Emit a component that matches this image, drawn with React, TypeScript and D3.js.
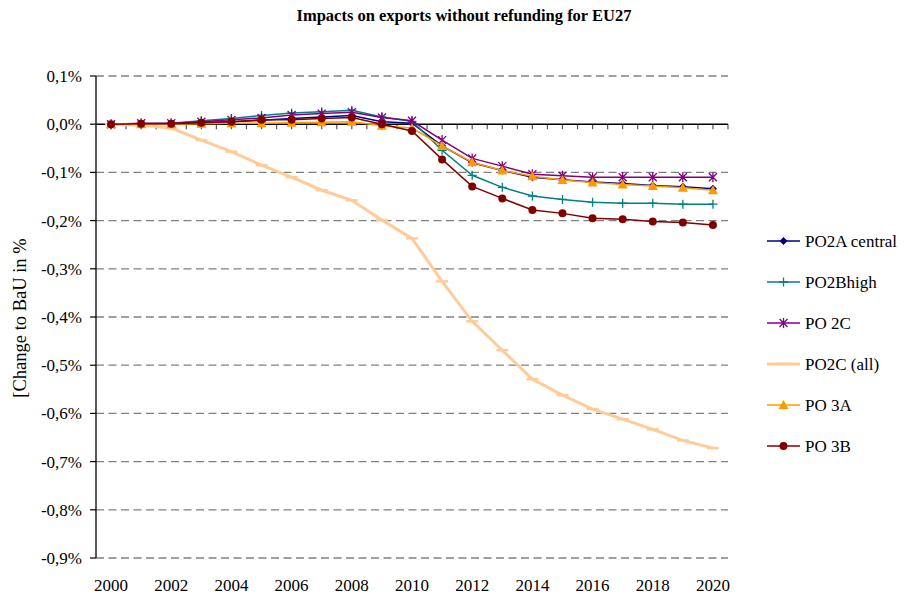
import React, { useEffect, useRef } from 'react';
import * as d3 from 'd3';

const years = d3.range(2000, 2021).map(String);
const yTicks = [0.1, 0, -0.1, -0.2, -0.3, -0.4, -0.5, -0.6, -0.7, -0.8, -0.9];
const xLabels = ['2000', '2002', '2004', '2006', '2008', '2010', '2012', '2014', '2016', '2018', '2020'];

// values in %
const po2aCentral = [0, 0.001, 0.001, 0.003, 0.005, 0.008, 0.012, 0.015, 0.018, 0.005, 0.002, -0.045, -0.08, -0.096, -0.11, -0.115, -0.12, -0.123, -0.127, -0.13, -0.134];
const po2bHigh = [0, 0.001, 0.002, 0.007, 0.012, 0.018, 0.023, 0.026, 0.029, 0.015, 0.006, -0.054, -0.106, -0.131, -0.149, -0.156, -0.162, -0.164, -0.164, -0.166, -0.166];
const po2c = [0, 0.002, 0.002, 0.005, 0.009, 0.013, 0.019, 0.022, 0.025, 0.014, 0.007, -0.033, -0.071, -0.087, -0.104, -0.107, -0.11, -0.11, -0.11, -0.11, -0.11];
const po2cAll = [0, -0.002, -0.008, -0.033, -0.057, -0.085, -0.11, -0.137, -0.158, -0.199, -0.237, -0.326, -0.409, -0.469, -0.529, -0.562, -0.591, -0.612, -0.633, -0.656, -0.672];
const po3a = [0, 0, 0, 0.001, 0.002, 0.002, 0.003, 0.004, 0.005, -0.003, -0.008, -0.045, -0.079, -0.096, -0.108, -0.116, -0.121, -0.125, -0.128, -0.132, -0.137];
const po3b = [0, 0.001, 0.001, 0.003, 0.005, 0.009, 0.009, 0.012, 0.014, 0, -0.014, -0.073, -0.129, -0.154, -0.178, -0.185, -0.195, -0.197, -0.202, -0.204, -0.209];

const seriesNames = ['PO2A central', 'PO2Bhigh', 'PO 2C', 'PO2C (all)', 'PO 3A', 'PO 3B'];
const seriesValues = [po2aCentral, po2bHigh, po2c, po2cAll, po3a, po3b];
const seriesColors = ['#000080', '#008080', '#800080', '#FFCC99', '#FF9900', '#800000'];
const seriesMarkers = ['diamond', 'plus', 'star', 'dash', 'triangle', 'circle'];

const fmt = (v: number) => (v < 0 ? '-' : '') + Math.abs(v).toFixed(1).replace('.', ',') + '%';

function drawMarker(g: any, kind: string, color: string, x: number, y: number) {
  if (kind === 'diamond') {
    g.append('path').attr('d', `M${x},${y - 4}L${x + 4},${y}L${x},${y + 4}L${x - 4},${y}Z`).attr('fill', color);
  } else if (kind === 'plus') {
    g.append('path').attr('d', `M${x - 4.5},${y}H${x + 4.5}M${x},${y - 4.5}V${y + 4.5}`).attr('stroke', color).attr('stroke-width', 1.3);
  } else if (kind === 'star') {
    g.append('path')
      .attr('d', `M${x - 4},${y - 4}L${x + 4},${y + 4}M${x - 4},${y + 4}L${x + 4},${y - 4}M${x},${y - 5}V${y + 5}`)
      .attr('stroke', color).attr('stroke-width', 1.3);
  } else if (kind === 'dash') {
    g.append('path').attr('d', `M${x - 6},${y}H${x + 6}`).attr('stroke', color).attr('stroke-width', 2.5);
  } else if (kind === 'triangle') {
    g.append('path').attr('d', `M${x},${y - 5}L${x + 5},${y + 4}L${x - 5},${y + 4}Z`).attr('fill', color);
  } else {
    g.append('circle').attr('cx', x).attr('cy', y).attr('r', 4).attr('fill', color);
  }
}

export default function App() {
  const ref = useRef<SVGSVGElement>(null);

  useEffect(() => {
    const svg = d3.select(ref.current);
    svg.selectAll('*').remove();
    const width = 904;
    const height = 599;
    const left = 96, right = 728, top = 76, bottom = 558;

    const x = d3.scaleBand().domain(years).range([left, right]).paddingInner(0).paddingOuter(0);
    const y = d3.scaleLinear().domain([-0.9, 0.1]).range([bottom, top]);
    const cx = (yr: string) => (x(yr) as number) + x.bandwidth() / 2;

    svg.append('rect').attr('width', width).attr('height', height).attr('fill', '#fff');

    // title
    svg.append('text').attr('x', 464).attr('y', 21).attr('text-anchor', 'middle')
      .attr('font-family', 'Liberation Serif').attr('font-weight', 'bold').attr('font-size', 16.5)
      .text('Impacts on exports without refunding for EU27');

    // grid
    svg.append('g').selectAll('line').data(yTicks.filter(t => t !== 0)).enter()
      .append('line')
      .attr('x1', left).attr('x2', right)
      .attr('y1', d => y(d)).attr('y2', d => y(d))
      .attr('stroke', '#808080').attr('stroke-width', 1.3).attr('stroke-dasharray', '8,4.5');

    // y axis
    svg.append('line').attr('x1', left).attr('x2', left).attr('y1', top).attr('y2', bottom).attr('stroke', '#000').attr('stroke-width', 1.3);
    const yAx = svg.append('g');
    yAx.selectAll('line').data(yTicks).enter().append('line')
      .attr('x1', left - 6).attr('x2', left).attr('y1', d => y(d)).attr('y2', d => y(d))
      .attr('stroke', '#000').attr('stroke-width', 1.2);
    yAx.selectAll('text').data(yTicks).enter().append('text')
      .attr('x', 82).attr('y', d => y(d) + 6).attr('text-anchor', 'end')
      .attr('font-family', 'Liberation Serif').attr('font-size', 17)
      .text(d => fmt(d));

    svg.append('text')
      .attr('transform', `translate(26,318) rotate(-90)`)
      .attr('text-anchor', 'middle')
      .attr('font-family', 'Liberation Serif').attr('font-size', 18.5)
      .text('[Change to BaU in %');

    // x axis on zero line
    const step = x.bandwidth() / 2;
    svg.append('g').selectAll('line').data(d3.range(0, years.length * 2 + 1)).enter().append('line')
      .attr('x1', d => left + d * step).attr('x2', d => left + d * step)
      .attr('y1', y(0)).attr('y2', y(0) + 5)
      .attr('stroke', '#555').attr('stroke-width', 1.2);
    svg.append('line').attr('x1', left).attr('x2', right).attr('y1', y(0)).attr('y2', y(0)).attr('stroke', '#000').attr('stroke-width', 1.5);

    svg.append('g').selectAll('text').data(xLabels).enter().append('text')
      .attr('x', d => cx(d)).attr('y', 591).attr('text-anchor', 'middle')
      .attr('font-family', 'Liberation Serif').attr('font-size', 17)
      .text(d => d);

    // series
    const line = d3.line<number>().x((_, i) => cx(years[i])).y(d => y(d));
    seriesValues.forEach((vals, si) => {
      const color = seriesColors[si];
      const g = svg.append('g');
      g.append('path').attr('d', line(vals)).attr('fill', 'none')
        .attr('stroke', color).attr('stroke-width', si === 3 ? 3 : 1.5);
      vals.forEach((v, i) => drawMarker(g, seriesMarkers[si], color, cx(years[i]), y(v)));
    });

    // legend
    const lg = svg.append('g');
    seriesNames.forEach((name, i) => {
      const ly = 241 + i * 41;
      const color = seriesColors[i];
      lg.append('line').attr('x1', 767).attr('x2', 800).attr('y1', ly).attr('y2', ly)
        .attr('stroke', color).attr('stroke-width', i === 3 ? 3 : 1.5);
      drawMarker(lg, seriesMarkers[i], color, 783.5, ly);
      lg.append('text').attr('x', 805).attr('y', ly + 6)
        .attr('font-family', 'Liberation Serif').attr('font-size', 17)
        .text(name);
    });
  }, []);

  return (
    <svg ref={ref} width={904} height={599} style={{ position: 'absolute', left: 0, top: 0 }} />
  );
}
